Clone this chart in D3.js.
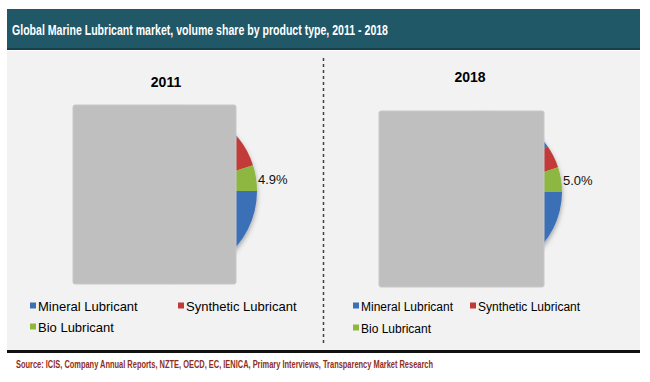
<!DOCTYPE html>
<html><head><meta charset="utf-8">
<script src="https://cdn.jsdelivr.net/npm/d3@7"></script>
<style>
html,body{margin:0;padding:0;background:#fff;}
svg{display:block;font-family:"Liberation Sans",Arial,sans-serif;}
</style></head>
<body>
<svg id="chart" width="650" height="382"></svg>
<script>
// ---- data ----
const categories = ["Mineral Lubricant", "Synthetic Lubricant", "Bio Lubricant"];
const years = ["2011", "2018"];
const share2011 = [89.1, 6.0, 4.9];
const share2018 = [90.3, 4.7, 5.0];
const labelShown = [false, false, true];
const titleText = "Global Marine Lubricant market, volume share by product type, 2011 - 2018";
const sourceText = "Source: ICIS, Company Annual Reports, NZTE, OECD, EC, IENICA, Primary Interviews, Transparency Market Research";

// ---- layout ----
const svg = d3.select("#chart");
const colors = d3.scaleOrdinal().domain(categories).range(["#3b70b7", "#c23a37", "#8db73f"]);

const defs = svg.append("defs");
const f = defs.append("filter").attr("id","sh").attr("x","-20%").attr("y","-20%").attr("width","140%").attr("height","150%");
f.append("feDropShadow").attr("dx",0).attr("dy",3).attr("stdDeviation",2.5).attr("flood-color","#000").attr("flood-opacity",0.35);

// panel background
svg.append("rect").attr("x",7).attr("y",51).attr("width",633).attr("height",300).attr("fill","#f2f2f2");
// header
svg.append("rect").attr("x",7).attr("y",9).attr("width",633).attr("height",41).attr("fill","#215868");
svg.append("rect").attr("x",7).attr("y",48).attr("width",633).attr("height",2).attr("fill","#17404c");
svg.append("text").attr("x",12).attr("y",35).attr("fill","#fff")
  .attr("font-family","'Liberation Sans Narrow','Arial Narrow','Liberation Sans',sans-serif")
  .attr("font-weight","bold").attr("font-size",15)
  .attr("textLength",376).attr("lengthAdjust","spacingAndGlyphs")
  .text(titleText);

// divider
svg.append("line").attr("x1",323.5).attr("x2",323.5).attr("y1",58).attr("y2",346)
  .attr("stroke","#404040").attr("stroke-width",1.5).attr("stroke-dasharray","3,3");

// bottom rule + source
svg.append("rect").attr("x",7).attr("y",350).attr("width",633).attr("height",3).attr("fill","#111");
svg.append("text").attr("x",16).attr("y",368).attr("fill","#8e2f1c")
  .attr("font-family","'Liberation Sans Narrow','Arial Narrow','Liberation Sans',sans-serif")
  .attr("font-weight","bold").attr("font-size",11)
  .attr("textLength",417).attr("lengthAdjust","spacingAndGlyphs")
  .text(sourceText);

const panels = [
  {year: years[0], values: share2011, cx:172, cy:191, r:85, tx:166, ty:87,
   mask:{x:73,y:105,w:163,h:179}, leg:{x:30, y1:306, y2:327, x2:178, fs:13}},
  {year: years[1], values: share2018, cx:482, cy:192, r:80, tx:470, ty:82,
   mask:{x:379,y:111,w:165,h:176}, leg:{x:353, y1:306, y2:328, x2:470, fs:12}}
];

const pie = d3.pie().sort(null).startAngle(Math.PI/2).endAngle(Math.PI/2 + 2*Math.PI);

panels.forEach(p => {
  const data = categories.map((c,i) => ({cat:c, v:p.values[i], show:labelShown[i]}));
  const arcs = pie.value(d => d.v)(data);
  const arc = d3.arc().innerRadius(0).outerRadius(p.r);
  const labelArc = d3.arc().innerRadius(p.r + 2).outerRadius(p.r + 2);
  const g = svg.append("g").attr("transform",`translate(${p.cx},${p.cy})`);
  g.append("g").attr("filter","url(#sh)").selectAll("path").data(arcs).join("path")
    .attr("d", arc).attr("fill", d => colors(d.data.cat));
  g.selectAll("text.lbl").data(arcs.filter(d => d.data.show)).join("text")
    .attr("class","lbl")
    .attr("x", d => labelArc.centroid(d)[0])
    .attr("y", d => labelArc.centroid(d)[1] + 6)
    .attr("font-size",13).attr("fill","#111")
    .text(d => d.data.v.toFixed(1) + "%");

  svg.append("text").attr("x",p.tx).attr("y",p.ty).attr("text-anchor","middle")
    .attr("font-weight","bold").attr("font-size",14).attr("fill","#000").text(p.year);

  // obscuring block
  svg.append("rect").attr("x",p.mask.x).attr("y",p.mask.y).attr("width",p.mask.w).attr("height",p.mask.h)
    .attr("rx",2).attr("fill","#bfbfbf").attr("stroke","#c8c8c8").attr("stroke-width",1);

  // legend
  const pos = [[p.leg.x, p.leg.y1],[p.leg.x2, p.leg.y1],[p.leg.x, p.leg.y2]];
  const lg = svg.append("g");
  categories.forEach((c,i) => {
    const [lx,ly] = pos[i];
    lg.append("rect").attr("x",lx).attr("y",ly-3.5).attr("width",6).attr("height",6).attr("fill",colors(c));
    lg.append("text").attr("x",lx+8).attr("y",ly+4.5).attr("font-size",p.leg.fs).attr("fill","#000").text(c);
  });
});
</script>
</body></html>
